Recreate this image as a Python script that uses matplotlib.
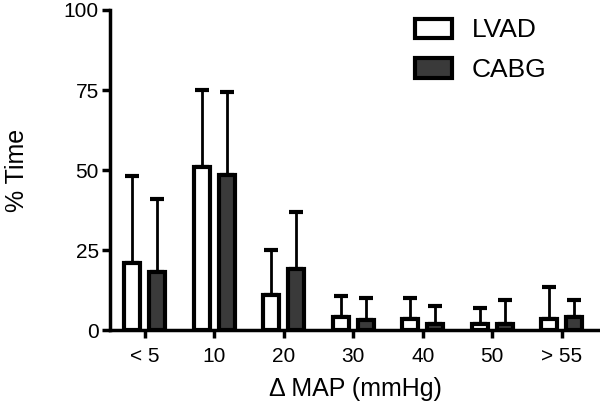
import matplotlib.pyplot as plt
import numpy as np

plt.rcParams['font.family'] = ['Liberation Sans', 'DejaVu Sans']

categories = ['< 5', '10', '20', '30', '40', '50', '> 55']
lvad_mean = [21, 51, 11, 4, 3.5, 2, 3.5]
lvad_top  = [48, 75, 25, 10.5, 10, 7, 13.5]     # top of error bar
cabg_mean = [18, 48.5, 19, 3, 2, 2, 4]
cabg_top  = [41, 74.5, 37, 10, 7.5, 9.5, 9.5]

lvad_err = np.array(lvad_top) - np.array(lvad_mean)
cabg_err = np.array(cabg_top) - np.array(cabg_mean)

x = np.arange(len(categories))
w = 0.23
off = 0.18
lw = 3

fig = plt.figure(figsize=(6, 4.09), dpi=100)
ax = fig.add_axes([0.1833, 0.193, 0.8167, 0.7826])

ax.errorbar(x - off, lvad_mean, yerr=[np.zeros(7), lvad_err], fmt='none',
            ecolor='black', elinewidth=2, capsize=5, capthick=3, zorder=1)
ax.errorbar(x + off, cabg_mean, yerr=[np.zeros(7), cabg_err], fmt='none',
            ecolor='black', elinewidth=2, capsize=5, capthick=3, zorder=1)
ax.bar(x - off, lvad_mean, w, color='white', edgecolor='black', linewidth=lw,
       label='LVAD', zorder=2)
ax.bar(x + off, cabg_mean, w, color='#3a3a3a', edgecolor='black', linewidth=lw,
       label='CABG', zorder=2)

ax.set_xlim(-0.5, 6.55)
ax.set_ylim(0, 100)
ax.set_yticks([0, 25, 50, 75, 100])
ax.set_xticks(x)
ax.set_xticklabels(categories)

for s in ['top', 'right']:
    ax.spines[s].set_visible(False)
for s in ['left', 'bottom']:
    ax.spines[s].set_linewidth(2.5)

ax.tick_params(axis='both', width=2.5, length=6, labelsize=15, direction='out')
ax.tick_params(axis='y', pad=2)
ax.tick_params(axis='x', pad=6)

ax.set_ylabel('% Time', fontsize=18, labelpad=25)
ax.set_xlabel('Δ MAP (mmHg)', fontsize=18, labelpad=8)

ax.legend(loc='upper left', bbox_to_anchor=(0.692, 0.955),
          bbox_transform=fig.transFigure, frameon=False, fontsize=19,
          handlelength=1.4, handleheight=0.75, handletextpad=0.75,
          labelspacing=0.6, borderpad=0, borderaxespad=0)

plt.savefig('out.png', dpi=100)
